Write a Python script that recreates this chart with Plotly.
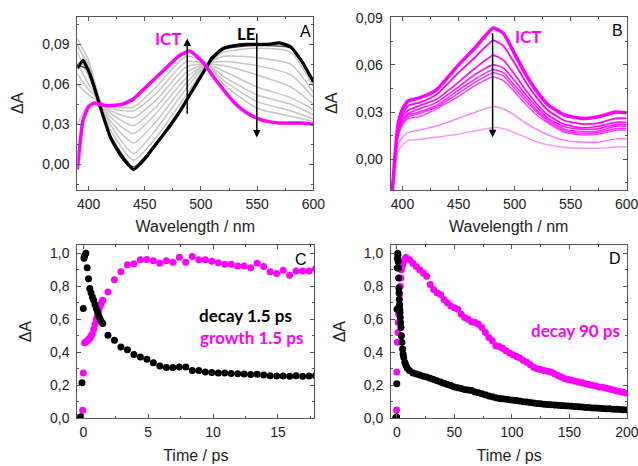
import plotly.graph_objects as go

# ---------------- Panel A data (wavelength / nm, dA) ----------------
wl_a = [390, 395, 400, 405, 410, 415, 420, 430, 440, 450, 460, 470, 480, 490, 500, 505, 510, 520, 530, 540, 550, 560, 570, 580, 590, 600]
le_black = [0.072, 0.078, 0.070, 0.058, 0.044, 0.031, 0.019, 0.005, -0.004, 0.004, 0.015, 0.026, 0.038, 0.052, 0.066, 0.073, 0.080, 0.087, 0.089, 0.090, 0.090, 0.090, 0.091, 0.088, 0.077, 0.062]
ict_pink = [-0.004, 0.033, 0.043, 0.046, 0.045, 0.044, 0.044, 0.045, 0.049, 0.057, 0.065, 0.073, 0.081, 0.085, 0.078, 0.073, 0.067, 0.056, 0.046, 0.039, 0.0345, 0.032, 0.031, 0.031, 0.031, 0.030]

wl_g = [390, 400, 410, 420, 440, 460, 487, 505, 520, 550, 580, 600]
grey_0 = [0.074, 0.071, 0.045, 0.021, -0.002, 0.016, 0.048, 0.073, 0.086, 0.089, 0.087, 0.061]
grey_1 = [0.088, 0.075, 0.047, 0.025, 0.003, 0.020, 0.052, 0.074, 0.084, 0.087, 0.084, 0.058]
grey_2 = [0.094, 0.078, 0.048, 0.029, 0.008, 0.026, 0.057, 0.075, 0.081, 0.080, 0.075, 0.054]
grey_3 = [0.090, 0.072, 0.048, 0.032, 0.016, 0.032, 0.061, 0.075, 0.077, 0.074, 0.067, 0.050]
grey_4 = [0.084, 0.066, 0.048, 0.035, 0.023, 0.038, 0.065, 0.075, 0.074, 0.067, 0.058, 0.045]
grey_5 = [0.076, 0.060, 0.048, 0.038, 0.029, 0.043, 0.069, 0.075, 0.070, 0.058, 0.050, 0.041]
grey_6 = [0.068, 0.056, 0.048, 0.040, 0.035, 0.048, 0.073, 0.075, 0.066, 0.052, 0.045, 0.037]
grey_7 = [0.060, 0.052, 0.047, 0.042, 0.040, 0.053, 0.077, 0.075, 0.063, 0.047, 0.040, 0.034]
grey_8 = [0.030, 0.045, 0.046, 0.043, 0.043, 0.058, 0.081, 0.076, 0.060, 0.042, 0.036, 0.032]

# ---------------- Panel B data ----------------
wl_b = [391, 393, 396, 400, 405, 415, 430, 450, 465, 481, 490, 500, 510, 520, 530, 545, 560, 575, 590, 600]
b_1 = [-0.02, 0.000, 0.022, 0.032, 0.037, 0.039, 0.044, 0.060, 0.071, 0.0834, 0.080, 0.067, 0.054, 0.043, 0.0345, 0.028, 0.026, 0.027, 0.030, 0.0295]
b_2 = [-0.02, -0.001, 0.020, 0.029, 0.034, 0.036, 0.041, 0.055, 0.065, 0.0755, 0.072, 0.061, 0.049, 0.039, 0.031, 0.0245, 0.0225, 0.023, 0.026, 0.026]
b_3 = [-0.02, -0.002, 0.018, 0.027, 0.031, 0.034, 0.038, 0.049, 0.058, 0.066, 0.063, 0.054, 0.044, 0.035, 0.028, 0.022, 0.020, 0.021, 0.0235, 0.0235]
b_4 = [-0.02, -0.003, 0.017, 0.025, 0.029, 0.032, 0.036, 0.046, 0.054, 0.060, 0.058, 0.050, 0.041, 0.033, 0.026, 0.0205, 0.019, 0.0195, 0.022, 0.022]
b_5 = [-0.02, -0.003, 0.016, 0.024, 0.028, 0.030, 0.034, 0.044, 0.051, 0.057, 0.055, 0.047, 0.039, 0.031, 0.025, 0.019, 0.0175, 0.018, 0.021, 0.021]
b_6 = [-0.02, -0.004, 0.015, 0.023, 0.027, 0.029, 0.033, 0.042, 0.049, 0.055, 0.053, 0.045, 0.037, 0.030, 0.024, 0.018, 0.0165, 0.017, 0.0195, 0.0195]
b_7 = [-0.02, -0.004, 0.014, 0.022, 0.026, 0.027, 0.032, 0.040, 0.047, 0.0525, 0.050, 0.043, 0.035, 0.028, 0.023, 0.017, 0.0155, 0.016, 0.0185, 0.0185]
b_8 = [-0.02, -0.006, 0.009, 0.014, 0.017, 0.0185, 0.021, 0.026, 0.030, 0.0334, 0.032, 0.028, 0.023, 0.019, 0.0155, 0.012, 0.011, 0.011, 0.013, 0.013]
b_9 = [-0.02, -0.008, 0.005, 0.009, 0.012, 0.0126, 0.014, 0.016, 0.018, 0.0202, 0.0195, 0.017, 0.014, 0.011, 0.0092, 0.0075, 0.007, 0.007, 0.0078, 0.008]

# ---------------- Panel C data (time / ps, normalised dA) ----------------
t_c_black = [-0.4, -0.3, -0.2, -0.1, 0.0, 0.05, 0.1, 0.2, 0.3, 0.4, 0.5, 0.6, 0.7, 0.8, 0.9, 1.0, 1.1, 1.2, 1.3, 1.4, 1.5,
             1.9, 2.4, 2.9, 3.4, 3.9, 4.4, 4.9, 5.4, 5.9, 6.4, 6.9, 7.4, 7.9, 8.4, 8.9, 9.4, 9.9, 10.4, 10.9, 11.4, 11.9,
             12.4, 12.9, 13.4, 13.9, 14.4, 14.9, 15.4, 15.9, 16.4, 16.9, 17.4, 17.9]
c_black = [0.0, 0.005, 0.01, 0.215, 0.665, 0.97, 0.985, 1.0, 0.913, 0.846, 0.786, 0.76, 0.735, 0.715, 0.69, 0.665, 0.645, 0.62, 0.6, 0.585, 0.575,
           0.503, 0.473, 0.432, 0.416, 0.386, 0.371, 0.357, 0.337, 0.317, 0.307, 0.307, 0.311, 0.311, 0.29, 0.29, 0.281, 0.277, 0.275, 0.274, 0.272, 0.27,
           0.268, 0.265, 0.267, 0.262, 0.258, 0.256, 0.256, 0.255, 0.258, 0.254, 0.256, 0.258]
t_c_pink = [-0.05, 0.0, 0.1, 0.2, 0.3, 0.4, 0.5, 0.6, 0.7, 0.8, 0.9, 1.0, 1.1, 1.2, 1.3, 1.4, 1.5,
            1.9, 2.4, 2.9, 3.4, 3.9, 4.4, 4.9, 5.4, 5.9, 6.4, 6.9, 7.4, 7.9, 8.4, 8.9, 9.4, 9.9, 10.4, 10.9, 11.4, 11.9,
            12.4, 12.9, 13.4, 13.9, 14.4, 14.9, 15.4, 15.9, 16.4, 16.9, 17.4, 17.9]
c_pink = [0.048, 0.275, 0.457, 0.463, 0.47, 0.478, 0.485, 0.5, 0.51, 0.54, 0.57, 0.6, 0.625, 0.65, 0.68, 0.7, 0.715,
          0.766, 0.84, 0.888, 0.93, 0.937, 0.96, 0.962, 0.955, 0.939, 0.955, 0.945, 0.976, 0.945, 0.98, 0.96, 0.96, 0.952, 0.943, 0.933, 0.933, 0.923,
          0.923, 0.913, 0.94, 0.92, 0.888, 0.877, 0.897, 0.867, 0.893, 0.893, 0.893, 0.906]

# ---------------- Panel D data ----------------
t_d_black_early = [-1, -0.5, -0.2, 0.0, 0.2, 0.4, 0.6, 0.8, 1.0, 1.2, 1.4, 1.6, 1.8, 2.0, 2.2, 2.4, 2.6, 2.8, 3.0, 3.3, 3.6, 4.0, 4.5, 5.0, 5.5, 6.0, 7.0, 8.0, 9.0]
d_black_early = [0.0, 0.005, 0.01, 0.21, 0.66, 0.91, 0.97, 1.0, 0.99, 0.95, 0.91, 0.85, 0.79, 0.76, 0.72, 0.69, 0.66, 0.64, 0.61, 0.58, 0.55, 0.50, 0.46, 0.42, 0.39, 0.37, 0.34, 0.32, 0.305]
t_d_black_late = list(range(11, 201, 3))
d_black_late = [0.29, 0.275, 0.268, 0.262, 0.255, 0.25, 0.242, 0.235, 0.228, 0.22, 0.212, 0.205, 0.198, 0.19, 0.185, 0.18, 0.175, 0.172, 0.168, 0.16,
                0.155, 0.148, 0.142, 0.135, 0.13, 0.125, 0.12, 0.118, 0.115, 0.113, 0.11, 0.108, 0.105, 0.10, 0.098, 0.095, 0.092, 0.09, 0.088, 0.085,
                0.083, 0.082, 0.08, 0.079, 0.078, 0.076, 0.075, 0.073, 0.072, 0.07, 0.068, 0.066, 0.065, 0.063, 0.062, 0.061, 0.06, 0.058, 0.057, 0.055,
                0.054, 0.053, 0.052, 0.05]
t_d_pink_early = [-0.2, 0.0, 0.5, 1.0, 1.3, 1.6, 2.0, 2.5, 3.0, 3.5, 4.0, 5.0, 6.0, 7.0]
d_pink_early = [0.05, 0.28, 0.46, 0.52, 0.58, 0.63, 0.68, 0.75, 0.80, 0.85, 0.90, 0.93, 0.95, 0.965]
t_d_pink_late = list(range(8, 201, 3))
d_pink_late = [0.975, 0.96, 0.94, 0.92, 0.90, 0.88, 0.86, 0.81, 0.78, 0.76, 0.75, 0.72, 0.70, 0.68, 0.67, 0.66, 0.63, 0.61, 0.60, 0.585,
               0.58, 0.57, 0.55, 0.52, 0.49, 0.47, 0.44, 0.435, 0.425, 0.41, 0.395, 0.385, 0.375, 0.365, 0.35, 0.34, 0.325, 0.31, 0.30, 0.295,
               0.29, 0.285, 0.28, 0.27, 0.26, 0.25, 0.24, 0.235, 0.23, 0.225, 0.22, 0.215, 0.21, 0.205, 0.20, 0.195, 0.19, 0.188, 0.182, 0.178,
               0.172, 0.165, 0.162, 0.157, 0.152]

MAG = "#ff00ff"
fig = go.Figure()

def line(x, y, color, width, ax="", smooth=0.6):
    fig.add_trace(go.Scatter(x=x, y=y, mode="lines", xaxis="x" + ax, yaxis="y" + ax,
                             line=dict(color=color, width=width, shape="spline", smoothing=smooth),
                             showlegend=False, hoverinfo="skip"))

# Panel A
for g in [grey_8, grey_7, grey_6, grey_5, grey_4, grey_3, grey_2, grey_1]:
    line(wl_g, g, "#c6c6c6", 1.5)
line(wl_g, grey_0, "#444444", 1.2)
line(wl_a, le_black, "black", 3.2, smooth=0.4)
line(wl_a, ict_pink, MAG, 3.5, smooth=0.4)

# Panel B
for y_, c_, w_ in [(b_9, "rgba(255,0,255,0.45)", 1.3), (b_8, "rgba(255,0,255,0.55)", 1.3),
                   (b_7, "rgba(255,0,255,0.75)", 1.5), (b_6, "rgba(255,0,255,0.8)", 1.5),
                   (b_5, "rgba(255,0,255,0.85)", 1.5), (b_4, "rgba(255,0,255,0.9)", 1.6),
                   (b_3, "rgba(255,0,255,0.95)", 1.7), (b_2, MAG, 1.8), (b_1, MAG, 3.5)]:
    line(wl_b, y_, c_, w_, ax="2", smooth=0.5)

def dots(x, y, color, ax):
    fig.add_trace(go.Scatter(x=x, y=y, mode="markers", xaxis="x" + ax, yaxis="y" + ax,
                             marker=dict(color=color, size=7, line=dict(width=0)),
                             showlegend=False, hoverinfo="skip"))

dots(t_c_pink, c_pink, MAG, "3")
dots(t_c_black, c_black, "black", "3")
dots(t_d_pink_early + t_d_pink_late, d_pink_early + d_pink_late, MAG, "4")
dots(t_d_black_early + t_d_black_late, d_black_early + d_black_late, "black", "4")

TICKFONT = dict(family="Liberation Sans, Arial", size=14, color="#222")
TITLEFONT = dict(family="Liberation Sans, Arial", size=16, color="#222")

def axis(domain, rng, dtick, tick0, minor, anchor, title, fmt=None, standoff=8, lstand=1):
    d = dict(domain=domain, range=rng, anchor=anchor, tickmode="linear", tick0=tick0, dtick=dtick,
             automargin=False, ticklabeloverflow="allow",
             showline=True, linecolor="#555", linewidth=1, mirror="ticks", ticks="inside", ticklen=4,
             tickcolor="#555", showgrid=False, zeroline=False, tickfont=TICKFONT, ticklabelstandoff=lstand,
             minor=dict(ticks="inside", ticklen=2, tickcolor="#555", dtick=minor, tick0=tick0),
             title=dict(text=title, font=TITLEFONT, standoff=standoff))
    if fmt:
        d["tickformat"] = fmt
    return d

xa = [0.1212, 0.4911]; xb = [0.6124, 0.9823]
xc = [0.1212, 0.4926]; xd = [0.6129, 0.9832]
ytop = [0.5923, 0.9642]; ybot = [0.1024, 0.4742]

fig.update_layout(
    width=638, height=466, margin=dict(l=0, r=0, t=0, b=0, autoexpand=False),
    paper_bgcolor="white", plot_bgcolor="white", separators=", ",
    xaxis=axis(xa, [390, 600], 50, 400, 25, "y", "Wavelength / nm", standoff=10),
    yaxis=axis(ytop, [-0.0193, 0.1107], 0.03, 0, 0.015, "x", "ΔA", ".2f", 14, 4),
    xaxis2=axis(xb, [389.5, 600], 50, 400, 25, "y2", "Wavelength / nm", standoff=10),
    yaxis2=axis(ytop, [-0.0195, 0.0906], 0.03, 0, 0.015, "x2", "ΔA", ".2f", 14, 4),
    xaxis3=axis(xc, [-0.46, 17.8], 5, 0, 2.5, "y3", "Time / ps", standoff=10),
    yaxis3=axis(ybot, [0, 1.05], 0.2, 0, 0.1, "x3", "ΔA", ".1f", 14, 4),
    xaxis4=axis(xd, [-5, 200.3], 50, 0, 25, "y4", "Time / ps", standoff=10),
    yaxis4=axis(ybot, [0, 1.05], 0.2, 0, 0.1, "x4", "ΔA", ".1f", 14, 4),
)

LBL = dict(family="Lato, Liberation Sans", size=17)
ann = []
def arrow(x, y0, y1, ax):
    ann.append(dict(x=x, y=y1, ax=x, ay=y0, xref="x" + ax, yref="y" + ax, axref="x" + ax, ayref="y" + ax,
                    showarrow=True, arrowhead=2, arrowsize=1, arrowwidth=1.5, arrowcolor="black", text=""))

def text(x, y, s, ax, color, font=LBL, bold=True):
    ann.append(dict(x=x, y=y, xref="x" + ax, yref="y" + ax, text=("<b>%s</b>" % s) if bold else s,
                    showarrow=False, font=dict(color=color, **font)))

arrow(487.8, 0.0368, 0.0943, "")
arrow(549.7, 0.0993, 0.020, "")
text(471, 0.0945, "ICT", "", MAG)
text(540.8, 0.098, "LE", "", "black")
text(593, 0.0993, "A", "", "black", dict(family="Liberation Sans, Arial", size=16), False)

arrow(480.4, 0.0811, 0.0140, "2")
text(512.2, 0.078, "ICT", "2", MAG)
text(592, 0.0818, "B", "2", "black", dict(family="Liberation Sans, Arial", size=16), False)

text(12.5, 0.62, "decay 1.5 ps", "3", "black")
text(13.0, 0.487, "growth 1.5 ps", "3", MAG)
text(16.8, 0.96, "C", "3", "black", dict(family="Liberation Sans, Arial", size=16), False)

text(155, 0.535, "decay 90 ps", "4", MAG)
text(189.6, 0.97, "D", "4", "black", dict(family="Liberation Sans, Arial", size=16), False)

fig.update_layout(annotations=ann)

post = "document.body.style.margin='0';document.body.style.overflow='hidden';"
fig.write_html("out.html", post_script=post, config={"displayModeBar": False})
